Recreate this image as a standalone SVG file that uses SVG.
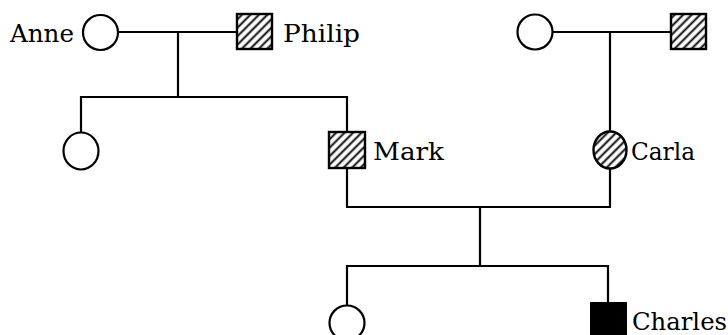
<svg xmlns="http://www.w3.org/2000/svg" width="728" height="335" viewBox="0 0 728 335">
  <defs>
    <pattern id="hatch" width="6" height="6" patternUnits="userSpaceOnUse" patternTransform="rotate(45)">
      <rect width="6" height="6" fill="#fff"/>
      <line x1="1.5" y1="0" x2="1.5" y2="6" stroke="#000" stroke-width="1.9"/>
    </pattern>
  </defs>
  <style>
    .ln { stroke: #000; stroke-width: 2.2; fill: none; }
    .sym { stroke: #000; stroke-width: 2.2; fill: #fff; }
    .hat { stroke: #000; stroke-width: 2.4; fill: url(#hatch); }
    .aff { stroke: #000; stroke-width: 2; fill: #000; }
    .lbl { font-family: "DejaVu Serif", "Liberation Serif", serif; font-size: 24px; fill: #000; }
  </style>
  <rect width="728" height="335" fill="#fff"/>

  <g id="connectors">
    <!-- first couple and their children -->
    <line class="ln" x1="118" y1="32" x2="237" y2="32"/>
    <line class="ln" x1="178" y1="32" x2="178" y2="97"/>
    <line class="ln" x1="81" y1="97" x2="347" y2="97"/>
    <line class="ln" x1="81" y1="96" x2="81" y2="133"/>
    <line class="ln" x1="347" y1="96" x2="347" y2="132"/>
    <!-- second couple and Carla -->
    <line class="ln" x1="552" y1="32" x2="671" y2="32"/>
    <line class="ln" x1="610" y1="32" x2="610" y2="132"/>
    <!-- Mark and Carla -->
    <line class="ln" x1="347" y1="168" x2="347" y2="207"/>
    <line class="ln" x1="610" y1="168" x2="610" y2="207"/>
    <line class="ln" x1="346" y1="207" x2="611" y2="207"/>
    <line class="ln" x1="480" y1="207" x2="480" y2="266"/>
    <line class="ln" x1="347" y1="266" x2="609" y2="266"/>
    <line class="ln" x1="347" y1="265" x2="347" y2="305"/>
    <line class="ln" x1="608" y1="265" x2="608" y2="303"/>
  </g>

  <g id="anne">
    <circle class="sym" cx="100.5" cy="32.5" r="17.5"/>
    <text class="lbl" x="10" y="42" textLength="64" lengthAdjust="spacingAndGlyphs">Anne</text>
  </g>
  <g id="philip">
    <rect class="hat" x="237" y="14" width="35" height="35"/>
    <text class="lbl" x="283" y="42" textLength="77" lengthAdjust="spacingAndGlyphs">Philip</text>
  </g>
  <g id="grandmother">
    <circle class="sym" cx="535" cy="32" r="17.5"/>
  </g>
  <g id="grandfather">
    <rect class="hat" x="671" y="14" width="35" height="35"/>
  </g>
  <g id="sister">
    <ellipse class="sym" cx="81" cy="151" rx="17.5" ry="18.5"/>
  </g>
  <g id="mark">
    <rect class="hat" x="329" y="132" width="36" height="36"/>
    <text class="lbl" x="373" y="160" textLength="71" lengthAdjust="spacingAndGlyphs">Mark</text>
  </g>
  <g id="carla">
    <ellipse class="hat" cx="610" cy="150" rx="16.5" ry="18.5"/>
    <text class="lbl" x="631" y="160" textLength="64" lengthAdjust="spacingAndGlyphs">Carla</text>
  </g>
  <g id="daughter">
    <circle class="sym" cx="347" cy="323" r="17.5"/>
  </g>
  <g id="charles">
    <rect class="aff" x="591" y="303" width="35" height="36"/>
    <text class="lbl" x="632" y="330" textLength="95" lengthAdjust="spacingAndGlyphs">Charles</text>
  </g>
</svg>
